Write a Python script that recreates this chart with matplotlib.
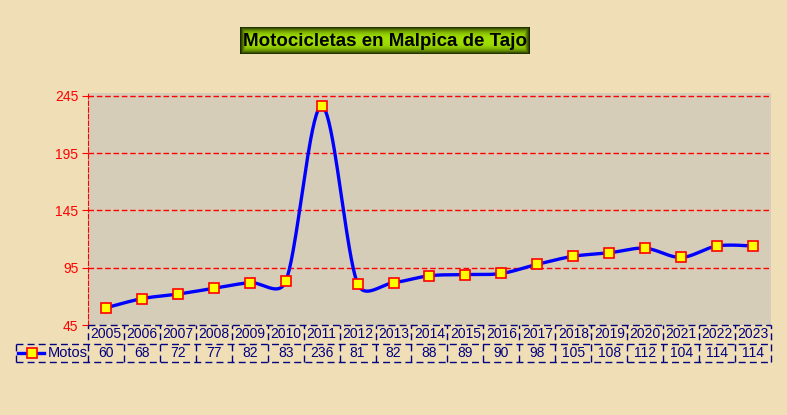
import numpy as np
import matplotlib
matplotlib.use("Agg")
import matplotlib.pyplot as plt
from matplotlib.lines import Line2D

# Data
years = [2005, 2006, 2007, 2008, 2009, 2010, 2011, 2012, 2013, 2014,
         2015, 2016, 2017, 2018, 2019, 2020, 2021, 2022, 2023]
motos = [60, 68, 72, 77, 82, 83, 236, 81, 82, 88,
         89, 90, 98, 105, 108, 112, 104, 114, 114]
yticks = [45, 95, 145, 195, 245]
series_name = "Motos"
title = "Motocicletas en Malpica de Tajo"

plt.rcParams['font.family'] = ['Liberation Sans', 'DejaVu Sans']

navy = '#000080'
bg = '#f0dfb6'
plot_bg = '#d6cdb9'

W, H = 787.0, 415.0
ymin, ymax = 45, 247.5
px_x = (771 - 88) / len(years)          # pixels per category
px_y = (325 - 93) / (ymax - ymin)       # pixels per value unit


def smooth(xs, ys, n=40):
    # Excel-style smoothed line: bezier segments with control points at 1/6
    # of the neighbour chord, capped at half the adjacent segment (pixel space)
    p = np.column_stack([np.asarray(xs, float) * px_x,
                         np.asarray(ys, float) * px_y])
    m = len(p)
    pp = np.vstack([p[:1], p, p[-1:]])
    c_in = p.copy()
    c_out = p.copy()
    for i in range(m):
        tang = (pp[i + 2] - pp[i]) / 6.0
        tl = np.hypot(*tang)
        if tl == 0:
            continue
        if i > 0:
            d1 = np.hypot(*(p[i] - p[i - 1]))
            c_in[i] = p[i] - tang * min(1.0, 0.5 * d1 / tl)
        if i < m - 1:
            d2 = np.hypot(*(p[i + 1] - p[i]))
            c_out[i] = p[i] + tang * min(1.0, 0.5 * d2 / tl)
    t = np.linspace(0, 1, n)[:, None]
    segs = []
    for i in range(m - 1):
        seg = ((1 - t) ** 3) * p[i] + 3 * ((1 - t) ** 2) * t * c_out[i] \
            + 3 * (1 - t) * t ** 2 * c_in[i + 1] + t ** 3 * p[i + 1]
        segs.append(seg)
    s = np.vstack(segs)
    return s[:, 0] / px_x, s[:, 1] / px_y


fig = plt.figure(figsize=(7.87, 4.15), dpi=100)
fig.patch.set_facecolor(bg)

ax = fig.add_axes([88 / W, (H - 325) / H, (771 - 88) / W, (325 - 93) / H])
ax.set_facecolor(plot_bg)

x = np.arange(len(years))
sx, sy = smooth(x, motos)
ax.plot(sx, sy, color='#0000ff', lw=2.4, zorder=3)
ax.plot(x, motos, ls='none', marker='s', ms=7, mfc='#ffff00', mec='#ff0000',
        mew=1.2, zorder=4)

ax.set_xlim(-0.5, len(years) - 0.5)
ax.set_ylim(ymin, ymax)
ax.set_yticks(yticks)
ax.set_yticklabels([str(v) for v in yticks], fontsize=10)
ax.tick_params(axis='y', colors='#ff0000', length=4, direction='out', pad=3)
ax.set_xticks([])
for v in yticks[1:]:
    ax.axhline(v, color='#ff0000', lw=1, ls=(0, (4, 2)), zorder=1)
for s in ['top', 'right', 'bottom']:
    ax.spines[s].set_visible(False)
ax.spines['left'].set_color('#ff0000')
ax.spines['left'].set_linestyle((0, (4, 2)))

# Data table under the plot
tab = fig.add_axes([16 / W, (H - 362) / H, (771 - 16) / W, (362 - 325) / H])
tab.set_xlim(-2.5, len(years) - 0.5)
tab.set_ylim(0, 2)
tab.axis('off')
dash = (0, (5, 3))
n = len(years)
kw = dict(color=navy, lw=1, ls=dash, clip_on=False)
tab.plot([-0.5, n - 0.5], [2, 2], **kw)
tab.plot([-2.5, n - 0.5], [1, 1], **kw)
tab.plot([-2.5, n - 0.5], [0, 0], **kw)
for i in range(n + 1):
    tab.plot([i - 0.5, i - 0.5], [0, 2], **kw)
tab.plot([-2.5, -2.5], [0, 1], **kw)
for i in range(n):
    tab.text(i, 1.5, str(years[i]), ha='center', va='center', color=navy, fontsize=10)
    tab.text(i, 0.5, str(motos[i]), ha='center', va='center', color=navy, fontsize=10)
tab.add_line(Line2D([-2.44, -1.72], [0.5, 0.5], color='#0000ff', lw=2.4))
tab.plot([-2.06], [0.5], marker='s', ms=7, mfc='#ffff00', mec='#ff0000', mew=1.2)
tab.text(-1.63, 0.5, series_name, ha='left', va='center', color=navy, fontsize=10.5)

# Title with green gradient box
tax = fig.add_axes([240 / W, (H - 54) / H, (530 - 240) / W, (54 - 27) / H])
gv = 1 - np.abs(np.linspace(-1, 1, 60)) ** 3
gh = np.clip((1 - np.abs(np.linspace(-1, 1, 300))) * 25, 0, 1)
g = np.minimum(gv[:, None], gh[None, :])
img = np.zeros((60, 300, 3))
img[:, :, 0] = 0.10 + 0.52 * g
img[:, :, 1] = 0.15 + 0.72 * g
tax.imshow(img, aspect='auto', extent=[0, 1, 0, 1])
tax.set_xlim(0, 1)
tax.set_ylim(0, 1)
tax.axis('off')
tax.text(0.5, 0.47, title, ha='center', va='center', fontsize=13.5,
         fontweight='bold', color='black')

fig.savefig('out.png', dpi=100, facecolor=bg)
